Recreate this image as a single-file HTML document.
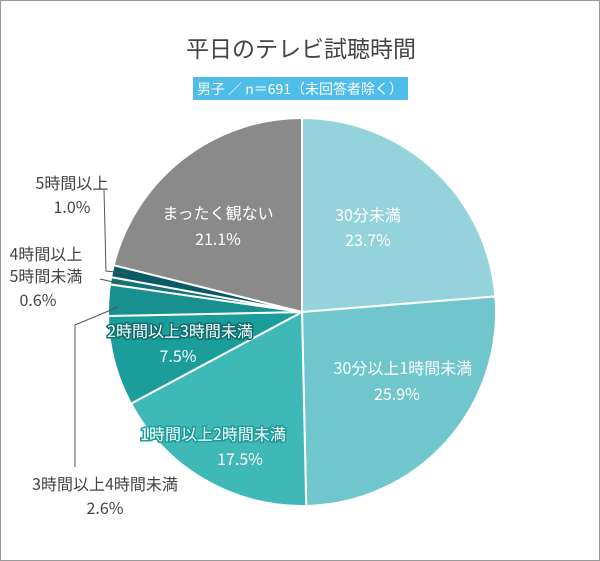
<!DOCTYPE html><html><head><meta charset="utf-8"><style>
body{margin:0;background:#fff}
#w{position:relative;width:598px;height:559px;border:1px solid #9a9a9a;font-family:"Liberation Sans","Noto Sans CJK JP",sans-serif;overflow:hidden}
</style></head><body><div id="w">
<svg id="s" width="598" height="559" viewBox="1 1 598 559" style="position:absolute;left:0;top:0">
<text x="301" y="57" font-size="23" fill="#444" text-anchor="middle" font-family="Noto Sans CJK JP,sans-serif">平日のテレビ試聴時間</text>
<rect x="193" y="77" width="215" height="23" fill="#4fbde9"/>
<text x="300" y="94" font-size="14" fill="#fff" text-anchor="middle" font-family="Noto Sans CJK JP,sans-serif">男子 ／ n＝691（未回答者除く）</text>
<g id="pie"></g>
<g font-size="16" font-family="Noto Sans CJK JP,sans-serif" text-anchor="middle">
<text x="368" y="221" fill="#fff">30分未満</text><text x="368" y="246" fill="#fff">23.7%</text>
<text x="403" y="374" fill="#fff">30分以上1時間未満</text><text x="397" y="400" fill="#fff">25.9%</text>
<text x="213" y="440" fill="#fff" stroke="#1a9d9b" stroke-width="3" paint-order="stroke">1時間以上2時間未満</text><text x="240" y="465" fill="#fff">17.5%</text>
<text x="180" y="337" fill="#fff" stroke="#0f6f70" stroke-width="3" paint-order="stroke">2時間以上3時間未満</text><text x="178" y="362" fill="#fff">7.5%</text>
<text x="218" y="219" fill="#fff">まったく観ない</text><text x="218" y="245" fill="#fff">21.1%</text>
<g fill="#444">
<text x="72" y="189">5時間以上</text><text x="72" y="213">1.0%</text>
<text x="46" y="260">4時間以上</text><text x="46" y="282">5時間未満</text><text x="38" y="306">0.6%</text>
<text x="105" y="490">3時間以上4時間未満</text><text x="105" y="514">2.6%</text>
</g></g>
<g stroke="#555" fill="none" stroke-width="1">
<polyline points="104,190 106,271 125,273"/>
<polyline points="100,279 122,284"/>
<polyline points="118,307 75,325 75,467"/>
</g>
</svg>
<script>
var d=[[23.7,"#95d3dc"],[25.9,"#6fc6cc"],[17.5,"#3fb9b7"],[7.5,"#1a9d9b"],[2.6,"#17908f"],[0.6,"#0f7378"],[1.0,"#0b5a66"],[21.1,"#8a8a8a"]];
var cx=302,cy=312,r=194,a=0,h="",t=d.reduce((s,x)=>s+x[0],0);
d.forEach(function(x){var b=a+x[0]/t*2*Math.PI;
var x1=cx+r*Math.sin(a),y1=cy-r*Math.cos(a),x2=cx+r*Math.sin(b),y2=cy-r*Math.cos(b);
h+='<path d="M'+cx+','+cy+'L'+x1+','+y1+'A'+r+','+r+' 0 '+((b-a)>Math.PI?1:0)+' 1 '+x2+','+y2+'Z" fill="'+x[1]+'" stroke="#fff" stroke-width="2"/>';a=b;});
document.getElementById("pie").innerHTML=h;
</script>
</div></body></html>
